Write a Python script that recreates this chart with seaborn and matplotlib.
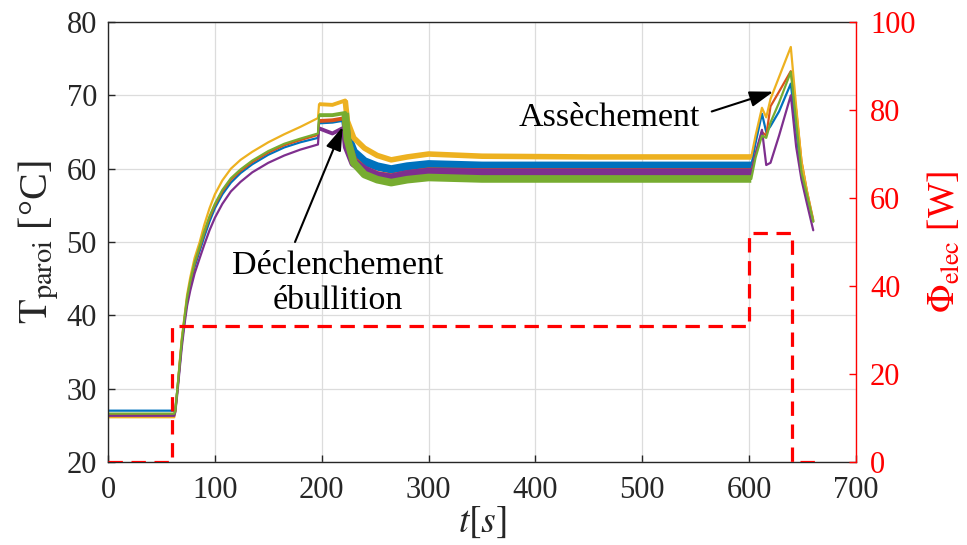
import numpy as np
import pandas as pd
import matplotlib
matplotlib.use("Agg")
import matplotlib.pyplot as plt
import seaborn as sns

# ---------------- data ----------------
t = [0, 62,
     63, 65, 67, 69, 71.7, 74, 77, 81, 85.8, 90, 95, 100, 107, 115, 124, 135, 150, 165, 180, 196.5,
     197.5, 210, 222,
     224, 230, 240, 252, 265, 280, 300, 350, 450, 550, 602,
     606, 612, 616, 620, 628, 639, 644, 649, 654, 660]

T_blue = [27.0, 27.0,
          27.3, 30.0, 33.0, 36.2, 39.5, 42.0, 44.2, 46.6, 48.8, 50.7, 52.8, 54.6, 56.5, 58.1, 59.4, 60.6, 61.9, 62.9, 63.6, 64.2,
          66.3, 66.4, 66.7,
          64.5, 62.3, 61.0, 60.3, 59.9, 60.3, 60.6, 60.4, 60.4, 60.4, 60.4,
          63.5, 67.5, 65.0, 65.8, 67.8, 71.6, 65.3, 59.0, 56.0, 52.8]
T_orange = [26.5, 26.5,
            27.0, 30.0, 33.2, 36.4, 39.6, 42.2, 44.5, 47.0, 49.2, 51.2, 53.3, 55.0, 56.9, 58.5, 59.7, 60.9, 62.2, 63.2, 63.9, 64.6,
            66.5, 66.6, 66.9,
            63.8, 61.2, 59.9, 59.2, 58.9, 59.3, 59.7, 59.6, 59.6, 59.6, 59.6,
            62.0, 65.0, 64.5, 68.5, 70.5, 73.3, 68.0, 61.0, 57.0, 53.0]
T_yellow = [26.1, 26.1,
            27.0, 30.0, 33.5, 36.8, 40.0, 42.8, 45.2, 47.8, 50.0, 52.3, 54.6, 56.5, 58.4, 60.0, 61.2, 62.3, 63.6, 64.7, 65.7, 66.9,
            68.8, 68.7, 69.3,
            66.5, 64.2, 62.8, 61.8, 61.2, 61.6, 62.0, 61.7, 61.6, 61.6, 61.6,
            64.5, 68.3, 67.0, 69.5, 72.5, 76.6, 68.5, 61.0, 57.0, 52.8]
T_purple = [26.3, 26.3,
            26.8, 29.5, 32.6, 35.6, 38.9, 41.3, 43.4, 45.7, 47.8, 49.6, 51.6, 53.3, 55.2, 56.9, 58.2, 59.5, 60.8, 61.8, 62.6, 63.3,
            65.5, 64.8, 65.7,
            63.0, 60.8, 59.8, 59.0, 58.7, 59.2, 59.5, 59.4, 59.4, 59.4, 59.4,
            62.0, 65.3, 60.5, 60.8, 64.5, 70.0, 63.0, 58.5, 55.3, 51.6]
T_green = [26.6, 26.6,
           27.0, 30.0, 33.3, 36.5, 39.8, 42.4, 44.7, 47.2, 49.4, 51.4, 53.5, 55.2, 57.1, 58.7, 59.9, 61.1, 62.4, 63.4, 64.1, 64.8,
           67.3, 67.3, 67.6,
           64.0, 60.8, 59.2, 58.5, 58.1, 58.5, 58.8, 58.6, 58.6, 58.6, 58.6,
           61.5, 64.5, 64.2, 66.3, 69.0, 73.2, 66.4, 59.5, 56.5, 52.8]

t_power = [0, 60, 60, 600, 600, 640, 640, 663]
P_elec = [0, 0, 31, 31, 52, 52, 0, 0]

x_ticks = [0, 100, 200, 300, 400, 500, 600, 700]
y_ticks_T = [20, 30, 40, 50, 60, 70, 80]
y_ticks_P = [0, 20, 40, 60, 80, 100]

series = {
    "blue": (T_blue, "#0072BD", 6.0),
    "orange": (T_orange, "#D95319", 5.0),
    "yellow": (T_yellow, "#EDB120", 4.0),
    "purple": (T_purple, "#7E2F8E", 6.5),
    "green": (T_green, "#77AC30", 5.5),
}

# ---------------- style ----------------
sns.set_style("ticks")
plt.rcParams["font.family"] = ["Liberation Serif", "DejaVu Serif"]
plt.rcParams["mathtext.fontset"] = "stix"
plt.rcParams["xtick.direction"] = "in"
plt.rcParams["ytick.direction"] = "in"

fig = plt.figure(figsize=(9.67, 5.45), dpi=100)
ax = fig.add_axes([0.1117, 0.1523, 0.8852 - 0.1117, 0.9596 - 0.1523])
ax2 = ax.twinx()

t_arr = np.array(t)
boil = (t_arr >= 197.5) & (t_arr <= 224)
noisy = (t_arr >= 222) & (t_arr <= 602)
for name, (vals, col, bw) in series.items():
    df = pd.DataFrame({"t": t, "T": vals})
    sns.lineplot(data=df, x="t", y="T", ax=ax, color=col, lw=1.6,
                 estimator=None, sort=False, legend=False)
    sns.lineplot(data=df[boil], x="t", y="T", ax=ax, color=col, lw=2.8,
                 estimator=None, sort=False, legend=False, solid_capstyle="butt")
    sns.lineplot(data=df[noisy], x="t", y="T", ax=ax, color=col, lw=bw,
                 estimator=None, sort=False, legend=False, solid_capstyle="butt")

dfp = pd.DataFrame({"t": t_power, "P": P_elec})
sns.lineplot(data=dfp, x="t", y="P", ax=ax2, color="#ff0000", lw=2.3,
             estimator=None, sort=False, legend=False)
ax2.lines[0].set_dashes((4.5, 2.7))

ax.set_xlim(0, 700)
ax.set_ylim(20, 80)
ax2.set_ylim(0, 100)
ax.set_xticks(x_ticks)
ax.set_yticks(y_ticks_T)
ax2.set_yticks(y_ticks_P)

ax.grid(True, color="#dcdcdc", lw=0.9)
ax.set_axisbelow(True)

dark = "#262626"
for s in ["left", "top", "bottom"]:
    ax.spines[s].set_color(dark)
    ax.spines[s].set_linewidth(1.0)
    ax.spines[s].set_visible(True)
ax.spines["right"].set_visible(False)
for s in ["left", "top", "bottom"]:
    ax2.spines[s].set_visible(False)
ax2.spines["right"].set_color("#ff0000")
ax2.spines["right"].set_linewidth(1.0)
ax2.spines["right"].set_visible(True)

ax.tick_params(axis="both", labelsize=22, colors=dark, length=5, width=1, pad=8)
ax.tick_params(axis="x", pad=10)
ax.tick_params(axis="y", right=False)
ax2.tick_params(axis="y", labelsize=22, colors="#ff0000", length=5, width=1, pad=10)

ax.set_xlabel(r"$t[s]$", fontsize=27, color=dark, labelpad=0)
ax.set_ylabel(r"$\mathrm{T}_{\mathrm{paroi}}$ [°C]", fontsize=29, color=dark, labelpad=4)
ax2.set_ylabel(r"$\Phi_{\mathrm{elec}}$ [W]", fontsize=27, color="#ff0000", labelpad=8)

arrow = dict(arrowstyle="-|>,head_length=0.9,head_width=0.3", color="black",
             lw=1.5, mutation_scale=16, shrinkA=0, shrinkB=0)
ax.annotate("", xy=(219.6, 65.7), xytext=(175, 50.0), arrowprops=arrow)
ax.text(215, 44.4, "Déclenchement\nébullition", ha="center", va="center",
        fontsize=24.5, color="black", linespacing=1.2)
ax.annotate("", xy=(622.6, 70.5), xytext=(565, 67.8), arrowprops=arrow)
ax.text(469.3, 67.0, "Assèchement", ha="center", va="center",
        fontsize=24.5, color="black")

fig.savefig("out.png", dpi=100)
